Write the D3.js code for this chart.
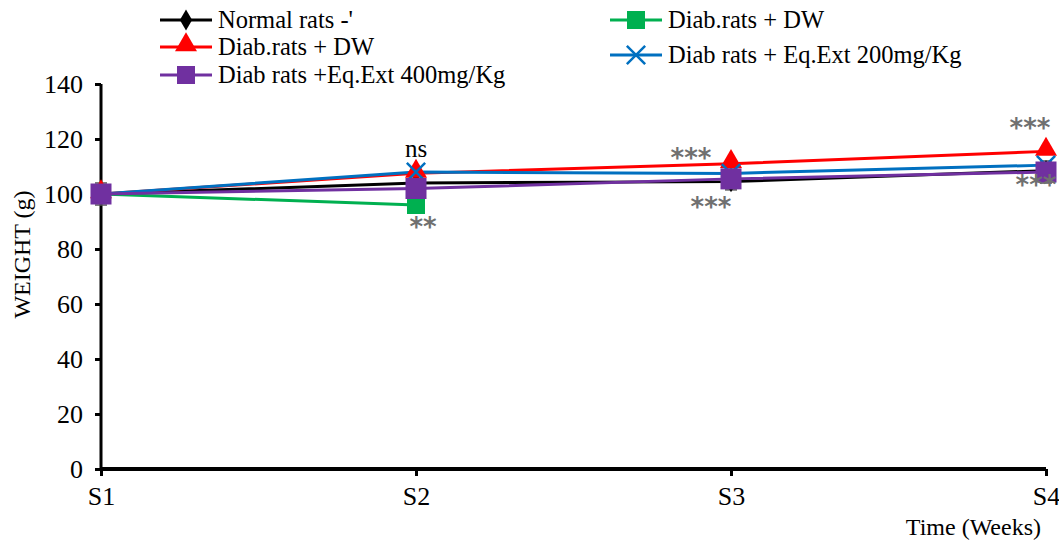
<!DOCTYPE html>
<html>
<head>
<meta charset="utf-8">
<script src="https://cdn.jsdelivr.net/npm/d3@7"></script>
<style>
  body { margin: 0; background: #fff; }
  svg { display: block; font-family: "Liberation Serif", "DejaVu Serif", serif; }
</style>
</head>
<body>
<svg id="chart" width="1059" height="542"></svg>
<script>
// data
const stages = ["S1", "S2", "S3", "S4"]
const yTicks = [0, 20, 40, 60, 80, 100, 120, 140]

const normalRats = [100, 104, 104.5, 108.5]
const diabDW = [100, 96]
const diabDW2 = [100, 107.5, 111, 115.5]
const ext200 = [100, 108, 107.5, 110.5]
const ext400 = [100, 102, 105.5, 108]

const normalErr = [4, 1.5, 1.5, 1.5]
const ext400Err = [0, 0, 4, 4]

const series = [
  { name: "Normal rats -'", values: normalRats, color: "#000", marker: "diamond", err: normalErr },
  { name: "Diab.rats + DW", values: diabDW, color: "#00b050", marker: "square" },
  { name: "Diab.rats + DW", values: diabDW2, color: "#ff0000", marker: "triangle" },
  { name: "Diab rats + Eq.Ext 200mg/Kg", values: ext200, color: "#0070c0", marker: "x" },
  { name: "Diab rats +Eq.Ext 400mg/Kg", values: ext400, color: "#7030a0", marker: "square", big: true, err: ext400Err }
]

// significance labels: stage, value where the label centre sits, text, x shift
const marks = [
  ["S2", 116.5, "ns", 0],
  ["S2", 90, "**", 7],
  ["S3", 115, "***", -40],
  ["S3", 97, "***", -20],
  ["S4", 126, "***", -16],
  ["S4", 105, "***", -10]
]

const serif = "Liberation Serif"
const svg = d3.select("#chart")
const x = d3.scalePoint().domain(stages).range([101, 1046])
const y = d3.scaleLinear().domain([0, 140]).range([469, 84])

// y axis
const yAxis = svg.append("g").attr("transform", "translate(101,0)")
  .call(d3.axisLeft(y).tickValues(yTicks).tickSize(6).tickPadding(12))
yAxis.attr("font-family", serif)
yAxis.select(".domain").remove()
yAxis.selectAll(".tick line").attr("stroke-width", 3)
yAxis.selectAll("text").attr("font-family", serif).attr("font-size", 26).attr("fill", "#000")
svg.append("line").attr("x1", 101).attr("x2", 101).attr("y1", y(140)).attr("y2", y(0))
  .attr("stroke", "#000").attr("stroke-width", 3)

// x axis
const xAxis = svg.append("g").attr("transform", "translate(0,469)")
  .call(d3.axisBottom(x).tickSize(7).tickPadding(11))
xAxis.attr("font-family", serif)
xAxis.select(".domain").remove()
xAxis.selectAll(".tick line").attr("stroke-width", 3)
xAxis.selectAll("text").attr("font-family", serif).attr("font-size", 26).attr("fill", "#000")
svg.append("line").attr("x1", x("S1")).attr("x2", x("S4")).attr("y1", 469).attr("y2", 469)
  .attr("stroke", "#000").attr("stroke-width", 4)

svg.append("text")
  .attr("transform", `translate(30,${y(78)}) rotate(-90)`)
  .attr("font-family", serif)
  .attr("text-anchor", "middle").attr("font-size", 24).text("WEIGHT (g)")
svg.append("text")
  .attr("x", 1041).attr("y", 535).attr("text-anchor", "end")
  .attr("font-family", serif)
  .attr("font-size", 24).text("Time (Weeks)")

const line = d3.line().x((d, i) => x(stages[i])).y(d => y(d))

function marker(g, type, color, cx, cy, big) {
  if (type === "diamond") {
    g.append("path").attr("d", d3.symbol(d3.symbolDiamond, 130)())
      .attr("transform", `translate(${cx},${cy})`).attr("fill", color)
  } else if (type === "triangle") {
    g.append("path").attr("d", d3.symbol(d3.symbolTriangle, 210)())
      .attr("transform", `translate(${cx},${cy - 2})`).attr("fill", color)
  } else if (type === "square") {
    const s = big ? 21 : 18
    g.append("rect").attr("x", cx - s / 2).attr("y", cy - s / 2)
      .attr("width", s).attr("height", s).attr("fill", color)
  } else if (type === "x") {
    g.append("path").attr("d", d3.symbol(d3.symbolTimes, 220)())
      .attr("transform", `translate(${cx},${cy})`)
      .attr("fill", "none").attr("stroke", color).attr("stroke-width", 2.5)
  }
}

// error bars
series.forEach(s => {
  if (!s.err) return
  const g = svg.append("g").attr("stroke", "#555").attr("stroke-width", 1.5)
  s.values.forEach((v, i) => {
    const e = s.err[i]
    if (!e) return
    const cx = x(stages[i])
    g.append("line").attr("x1", cx).attr("x2", cx).attr("y1", y(v - e)).attr("y2", y(v + e))
    g.append("line").attr("x1", cx - 6).attr("x2", cx + 6).attr("y1", y(v - e)).attr("y2", y(v - e))
    g.append("line").attr("x1", cx - 6).attr("x2", cx + 6).attr("y1", y(v + e)).attr("y2", y(v + e))
  })
})

series.forEach(s => {
  svg.append("path").datum(s.values).attr("d", line)
    .attr("fill", "none").attr("stroke", s.color).attr("stroke-width", 3)
})
series.forEach(s => {
  const g = svg.append("g")
  s.values.forEach((v, i) => marker(g, s.marker, s.color, x(stages[i]), y(v), s.big))
})

svg.append("g").selectAll("text").data(marks).join("text")
  .attr("x", d => x(d[0]) + d[3])
  .attr("y", d => y(d[1]) + (d[2] === "ns" ? 8 : 14))
  .attr("text-anchor", "middle")
  .attr("font-size", d => d[2] === "ns" ? 25 : 26)
  .attr("font-family", d => d[2] === "ns" ? serif : "DejaVu Sans")
  .attr("font-weight", d => d[2] === "ns" ? "normal" : "bold")
  .attr("fill", d => d[2] === "ns" ? "#000" : "#707070")
  .text(d => d[2])

// legend
const legendPos = [
  [160, 20], [610, 20], [160, 47], [610, 55], [160, 75]
]
series.forEach((s, i) => {
  const [lx, ly] = legendPos[i]
  const g = svg.append("g")
  g.append("line").attr("x1", lx).attr("x2", lx + 52).attr("y1", ly).attr("y2", ly)
    .attr("stroke", s.color).attr("stroke-width", 3)
  marker(g, s.marker, s.color, lx + 26, ly, false)
  g.append("text").attr("x", lx + 58).attr("y", ly + 8)
    .attr("font-size", 24.5).text(s.name)
})
</script>
</body>
</html>
